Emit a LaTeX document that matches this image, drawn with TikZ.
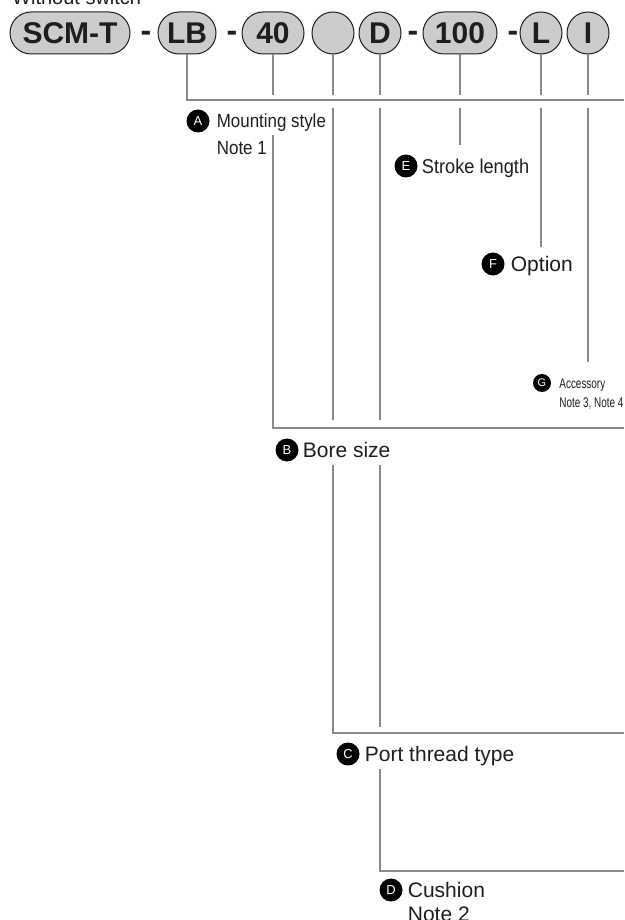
\documentclass[tikz,border=0pt]{standalone}
\usepackage{fontspec}
\setmainfont{Liberation Sans}
\newfontfamily\narrowA[FakeStretch=0.89]{Liberation Sans}
\newfontfamily\narrowE[FakeStretch=0.91]{Liberation Sans}
\newfontfamily\narrowG[FakeStretch=0.71]{Liberation Sans}
\usetikzlibrary{positioning}
\definecolor{pillfill}{HTML}{CCCCCC}
\definecolor{ink}{HTML}{1E1E1E}
\definecolor{leadline}{HTML}{8A8A8A}
\tikzset{
  every node/.style={text=ink},
  pill/.style={draw=ink,line width=1pt,fill=pillfill,rounded corners=21pt,minimum height=42pt,minimum width=42pt,inner sep=0pt,text height=21.5pt,text depth=0pt,font=\fontsize{30}{30}\selectfont\bfseries},
  hyph/.style={inner sep=0pt,anchor=base,font=\fontsize{32}{32}\selectfont\bfseries},
  badge/.style={circle,fill=black,minimum size=23pt,inner sep=0pt,text=white,font=\fontsize{13}{13}\selectfont},
  smallbadge/.style={badge,minimum size=18pt,font=\fontsize{11}{11}\selectfont},
  lbl/.style={inner sep=0pt,text height=15pt,text depth=0pt,font=\fontsize{21}{21}\selectfont},
  lblA/.style={lbl,text height=13.6pt,font=\fontsize{19}{19}\narrowA},
  lblE/.style={lbl,text height=14.3pt,font=\fontsize{20}{20}\narrowE},
  lblG/.style={lbl,text height=10pt,font=\fontsize{14}{14}\narrowG},
  lead/.style={draw=leadline,line width=1.5pt},
}

\begin{document}
\begin{tikzpicture}[x=1pt,y=-1pt]
\useasboundingbox[fill=white] (0,0) rectangle (624,920);

\node[anchor=base west,inner sep=0pt,font=\fontsize{20}{20}\selectfont] (title) at (12,5) {Without switch};

% code row
\node[pill,minimum width=120pt] (scmt) at (70,33) {SCM-T};
\node[hyph] (h1) at (146,42) {-};
\node[pill,minimum width=58pt] (lb) at (187,33) {LB};
\node[hyph] (h2) at (232,42) {-};
\node[pill,minimum width=62pt] (p40) at (273,33) {40};
\node[pill] (blank) at (333,33) {};
\node[pill] (pD) at (380,33) {D};
\node[hyph] (h3) at (413,42) {-};
\node[pill,minimum width=74pt] (p100) at (460,33) {100};
\node[hyph] (h4) at (513,42) {-};
\node[pill] (pL) at (541,33) {L};
\node[pill] (pI) at (588,33) {I};

% labels
\node[badge] (bA) at (198,121) {A};
\node[lblA,right=7pt of bA] (tA) {Mounting style};
\node[lblA,below=12.4pt of tA.south west,anchor=north west] (tA2) {Note 1};
\node[badge] (bE) at (406,166) {E};
\node[lblE,right=4pt of bE] (tE) {Stroke length};
\node[badge] (bF) at (493,264) {F};
\node[lbl,right=6pt of bF] (tF) {Option};
\node[smallbadge] (bG) at (542,383) {G};
\node[lblG,right=8pt of bG] (tG) {Accessory};
\node[lblG,below=9pt of tG.south west,anchor=north west] (tG2) {Note 3, Note 4};
\node[badge] (bB) at (287,450) {B};
\node[lbl,right=4pt of bB] (tB) {Bore size};
\node[badge] (bC) at (348,754) {C};
\node[lbl,right=5pt of bC] (tC) {Port thread type};
\node[badge] (bD) at (391,890) {D};
\node[lbl,right=5pt of bD] (tD) {Cushion};
\node[lbl,below=9pt of tD.south west,anchor=north west] (tD2) {Note 2};

% bars
\coordinate (rowA) at (624,100);
\coordinate (rowB) at (624,428);
\coordinate (rowC) at (624,733);
\coordinate (rowD) at (624,871);

\draw[lead] (lb.south) |- (rowA);
\draw[lead,shorten >=5pt] (p40.south) -- (p40.south |- rowA);
\draw[lead,shorten >=5pt] (blank.south) -- (blank.south |- rowA);
\draw[lead,shorten >=5pt] (pD.south) -- (pD.south |- rowA);
\draw[lead,shorten >=5pt] (p100.south) -- (p100.south |- rowA);
\draw[lead,shorten >=5pt] (pL.south) -- (pL.south |- rowA);
\draw[lead,shorten >=5pt] (pI.south) -- (pI.south |- rowA);

\draw[lead,shorten <=8pt,shorten >=14pt] (p100.south |- rowA) -- (p100.south |- tE.north);
\draw[lead,shorten <=8pt,shorten >=9.5pt] (pL.south |- rowA) -- (pL.south |- tF.north);
\draw[lead,shorten <=8pt,shorten >=16pt] (pI.south |- rowA) -- (pI.south |- tG.north);
\draw[lead,shorten <=8pt,shorten >=8pt] (blank.south |- rowA) -- (blank.south |- rowB);
\draw[lead,shorten <=8pt,shorten >=8pt] (pD.south |- rowA) -- (pD.south |- rowB);
\draw[lead,shorten <=7pt] (p40.south |- tA.south) |- (rowB);

\draw[lead,shorten <=7.5pt] (blank.south |- tB.south) |- (rowC);
\draw[lead,shorten <=7.5pt,shorten >=6pt] (pD.south |- tB.south) -- (pD.south |- rowC);
\draw[lead,shorten <=7.5pt] (pD.south |- tC.south) |- (rowD);

\end{tikzpicture}
\end{document}
